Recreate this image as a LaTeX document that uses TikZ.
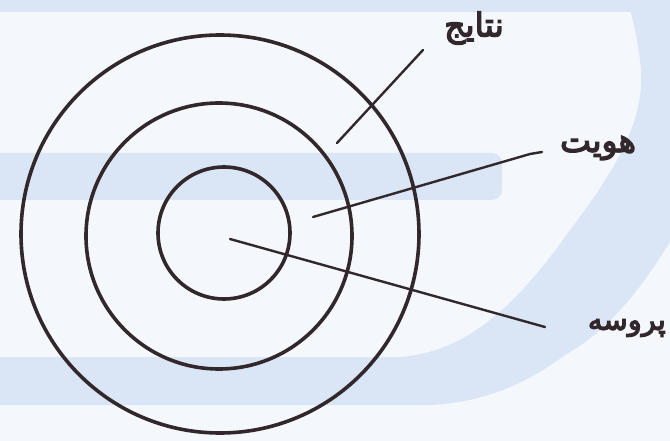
\documentclass[tikz,border=0pt]{standalone}
\usepackage{fontspec}
\newfontfamily\arabicfont[Script=Arabic,FakeBold=4]{DejaVu Sans}
\TeXXeTstate=1
\definecolor{ink}{RGB}{50,40,44}
\definecolor{paper}{RGB}{244,247,252}
\definecolor{wm}{RGB}{218,230,246}
\begin{document}
\begin{tikzpicture}[x=1pt,y=-1pt,
  ringnode/.style={circle, draw=ink, line width=3.6pt, inner sep=0pt, outer sep=0pt},
  leader/.style={draw=ink, line width=2.4pt, line cap=round, line join=round},
  lbl/.style={text=ink, font=\arabicfont\fontsize{33}{36}\selectfont, inner sep=0pt}]
\useasboundingbox (0,0) rectangle (670,441);
\fill[paper] (0,0) rectangle (670,441);
% faint watermark of the scanned page
\begin{scope}
\clip (0,0) rectangle (670,441);
\fill[wm] (-5,-5) rectangle (680,12);
\fill[wm, rounded corners=10pt] (-20,153) rectangle (502,200);
\fill[wm] (-20,357) -- (400,357)
  .. controls (470,352) and (520,300) .. (568,233)
  .. controls (615,170) and (648,120) .. (640,60)
  .. controls (637,35) and (632,15) .. (626,-5)
  -- (680,-5) -- (680,225)
  .. controls (645,285) and (610,330) .. (565,355)
  .. controls (525,385) and (480,403) .. (430,405)
  -- (-20,405) -- cycle;
\end{scope}
% concentric circles
\node[ringnode, minimum size=398pt] (outer) at (220,234) {};
\node[ringnode, minimum size=266pt] (middle) at (219,236) {};
\node[ringnode, minimum size=132pt] (inner) at (224,233) {};
% labels
\node[lbl] (natayej) at (474,28) {\beginR نتایج\endR};
\node[lbl] (hoviat) at (598,148) {\beginR هویت\endR};
\node[lbl, font=\arabicfont\fontsize{29}{32}\selectfont, anchor=east] (parvaseh) at (666,328) {\beginR پروسه\endR};
% leader lines
\coordinate (a1) at (337,143);
\coordinate (b1) at (423,50);
\coordinate (a2) at (313,217);
\coordinate (k2) at (530,154);
\coordinate (b2) at (542,152);
\coordinate (a3) at (230,239);
\coordinate (b3) at (545,327);
\draw[leader] (a1) -- (b1);
\draw[leader] (a2) -- (k2) -- (b2);
\draw[leader] (a3) -- (b3);
\end{tikzpicture}
\end{document}
